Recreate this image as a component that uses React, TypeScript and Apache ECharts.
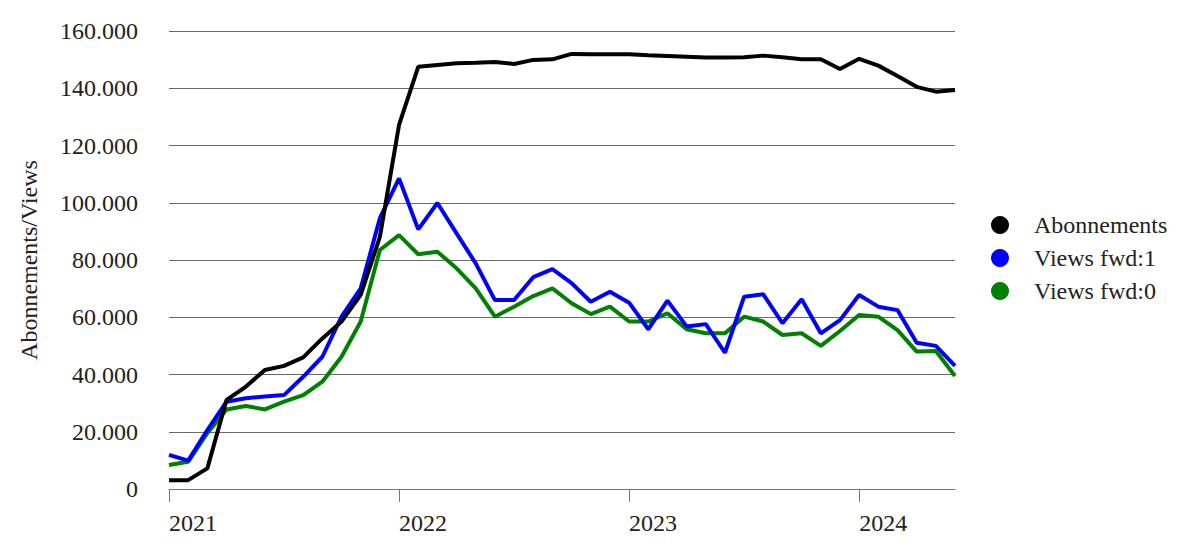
import React, { useEffect, useRef } from "react";
import * as echarts from "echarts";

const months: string[] = [
  "2021-01", "2021-02", "2021-03", "2021-04", "2021-05", "2021-06", "2021-07", "2021-08", "2021-09", "2021-10", "2021-11", "2021-12",
  "2022-01", "2022-02", "2022-03", "2022-04", "2022-05", "2022-06", "2022-07", "2022-08", "2022-09", "2022-10", "2022-11", "2022-12",
  "2023-01", "2023-02", "2023-03", "2023-04", "2023-05", "2023-06", "2023-07", "2023-08", "2023-09", "2023-10", "2023-11", "2023-12",
  "2024-01", "2024-02", "2024-03", "2024-04", "2024-05", "2024-06",
];

const abonnements: number[] = [
  3100, 3100, 7200, 31100, 35700, 41600, 43000, 46000, 52600, 58500, 67800, 88100,
  127200, 147500, 148100, 148700, 148900, 149200, 148500, 149900, 150100, 152000, 151900, 151900,
  151900, 151500, 151300, 151000, 150700, 150700, 150800, 151400, 150800, 150100, 150100, 146700,
  150300, 147900, 144300, 140500, 138800, 139400,
];

const viewsFwd1: number[] = [
  11900, 9900, 20600, 30500, 31700, 32300, 32800, 39200, 46200, 60200, 70100, 94600,
  108500, 90700, 99900, 89300, 78800, 66000, 66000, 74000, 76800, 71900, 65400, 68900,
  65100, 55800, 65800, 56800, 57600, 47600, 67200, 68000, 57900, 66300, 54400, 59000,
  67800, 63700, 62500, 51100, 50000, 43000,
];

const viewsFwd0: number[] = [
  8400, 9500, 19500, 27800, 29000, 27800, 30500, 32800, 37500, 46200, 58500, 83500,
  88700, 82000, 82900, 77100, 70100, 60200, 63700, 67400, 70100, 64900, 61100, 63700,
  58500, 58500, 61400, 55800, 54400, 54400, 60200, 58500, 53800, 54400, 50000, 55200,
  60800, 60200, 55500, 48000, 48200, 39500,
];

const seriesNames = ["Abonnements", "Views fwd:1", "Views fwd:0"];
const seriesColors = ["#000000", "#0000ff", "#008000"];
const yAxisName = "Abonnements/Views";

const FONT = "Liberation Serif";
const FS = 24;

export default function App() {
  const ref = useRef<HTMLDivElement>(null);

  useEffect(() => {
    if (!ref.current) return;
    const chart = echarts.init(ref.current, undefined, { renderer: "svg" });
    const isJan = (idx: number) => idx % 12 === 0;
    chart.setOption({
      animation: false,
      backgroundColor: "#ffffff",
      textStyle: { fontFamily: FONT },
      grid: { left: 169, right: 245, top: 31, bottom: 70, containLabel: false },
      legend: {
        orient: "vertical",
        left: 986,
        top: 208,
        data: seriesNames,
        icon: "circle",
        itemWidth: 18,
        itemHeight: 18,
        itemGap: 9,
        textStyle: { fontFamily: FONT, fontSize: FS, color: "#222", padding: [0, 0, 0, 20] },
      },
      xAxis: {
        type: "category",
        data: months,
        boundaryGap: false,
        axisLine: { show: true, lineStyle: { color: "#777", width: 1 } },
        axisTick: { show: true, interval: (idx: number) => isJan(idx), length: 13, lineStyle: { color: "#777" } },
        axisLabel: {
          interval: (idx: number) => isJan(idx),
          formatter: (v: string) => v.slice(0, 4),
          align: "left",
          margin: 22,
          fontFamily: FONT,
          fontSize: FS,
          color: "#222",
        },
        splitLine: { show: false },
      },
      yAxis: {
        type: "value",
        min: 0,
        max: 160000,
        interval: 20000,
        name: yAxisName,
        nameLocation: "middle",
        nameGap: 128,
        nameTextStyle: { fontFamily: FONT, fontSize: FS, color: "#222" },
        axisLine: { show: false },
        axisTick: { show: false },
        axisLabel: {
          margin: 31,
          fontFamily: FONT,
          fontSize: FS,
          color: "#222",
          formatter: (v: number) => (v === 0 ? "0" : String(v).replace(/\B(?=(\d{3})+(?!\d))/g, ".")),
        },
        splitLine: { show: true, lineStyle: { color: "#6a6a6a", width: 1 } },
      },
      series: [
        {
          name: seriesNames[2],
          type: "line",
          data: viewsFwd0,
          showSymbol: false,
          lineStyle: { color: seriesColors[2], width: 4 },
          itemStyle: { color: seriesColors[2] },
          z: 2,
        },
        {
          name: seriesNames[1],
          type: "line",
          data: viewsFwd1,
          showSymbol: false,
          lineStyle: { color: seriesColors[1], width: 4 },
          itemStyle: { color: seriesColors[1] },
          z: 3,
        },
        {
          name: seriesNames[0],
          type: "line",
          data: abonnements,
          showSymbol: false,
          lineStyle: { color: seriesColors[0], width: 4 },
          itemStyle: { color: seriesColors[0] },
          z: 4,
        },
      ],
    });
    return () => chart.dispose();
  }, []);

  return <div ref={ref} style={{ position: "fixed", left: 0, top: 0, width: 1200, height: 559 }} />;
}
